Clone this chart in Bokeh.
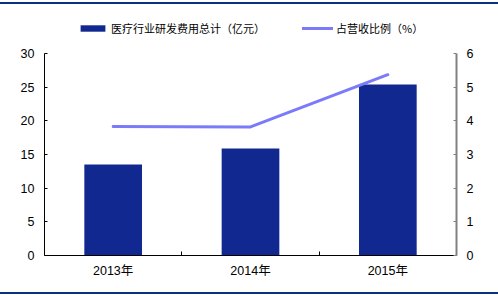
import numpy as np
from bokeh.plotting import figure
from bokeh.layouts import column
from bokeh.models import (Range1d, LinearAxis, FixedTicker, Legend, LegendItem, Div)
from bokeh.embed import file_html
from bokeh.resources import INLINE

categories = ["2013年", "2014年", "2015年"]
rd_expense = [13.5, 15.9, 25.4]      # 医疗行业研发费用总计（亿元）
rd_ratio = [3.83, 3.82, 5.37]        # 占营收比例（%）
left_ticks = [0, 5, 10, 15, 20, 25, 30]
right_ticks = [0, 1, 2, 3, 4, 5, 6]

BAR = "#10288F"
LINE = "#7B7BFA"
RULE = "#0D2F80"
LATIN = "Liberation Sans"
MIXED = "Liberation Sans, Noto Sans CJK SC"
CJK = "Noto Sans CJK SC"

# layout geometry (pixels)
FIG_H = 288
BORDER_BOTTOM = 37
AXIS_PX = 202          # pixel height of the 0..30 axis span
frame_h = FIG_H - BORDER_BOTTOM
left_max, right_max = left_ticks[-1], right_ticks[-1]
stretch = frame_h / AXIS_PX  # frame extends above the axis top to host the legend

xs = np.arange(len(categories)) + 0.5

p = figure(width=498, height=FIG_H, output_backend="svg", toolbar_location=None,
           x_range=Range1d(0, len(categories)), y_range=Range1d(0, left_max * stretch),
           min_border_left=44, min_border_right=42, min_border_top=0,
           min_border_bottom=BORDER_BOTTOM, outline_line_color=None,
           background_fill_color="white", border_fill_color="white", margin=0)
p.xgrid.visible = False
p.ygrid.visible = False
p.extra_y_ranges = {"pct": Range1d(0, right_max * stretch)}

bars = p.vbar(x=xs, top=rd_expense, width=0.42, fill_color=BAR, line_color=None)
ln = p.line(x=xs, y=rd_ratio, y_range_name="pct", line_color=LINE, line_width=3,
            line_cap="round")

# x axis
xa = p.xaxis[0]
xa.ticker = FixedTicker(ticks=list(xs), minor_ticks=list(np.arange(1, len(categories))))
xa.major_label_overrides = {float(x): c for x, c in zip(xs, categories)}
xa.major_tick_line_color = None
xa.minor_tick_in = 4
xa.minor_tick_out = 0
xa.minor_tick_line_color = "black"
xa.axis_line_color = "black"
xa.major_label_text_font = MIXED
xa.major_label_text_font_size = "12.5px"
xa.major_label_text_color = "black"
xa.major_label_standoff = 2

# left axis
ya = p.yaxis[0]
ya.ticker = FixedTicker(ticks=left_ticks)
ya.bounds = (0, left_max)
ya.major_tick_in = 3
ya.major_tick_out = 0
ya.minor_tick_line_color = None
ya.axis_line_color = "black"
ya.major_label_text_font = LATIN
ya.major_label_text_font_size = "12.5px"
ya.major_label_text_color = "black"
ya.major_label_standoff = 10

# right axis
ra = LinearAxis(y_range_name="pct", ticker=FixedTicker(ticks=right_ticks),
                bounds=(0, right_max))
ra.major_tick_in = 3
ra.major_tick_out = 0
ra.minor_tick_line_color = None
ra.axis_line_color = "#808080"
ra.axis_line_width = 2
ra.major_tick_line_color = "#808080"
ra.major_label_text_font = LATIN
ra.major_label_text_font_size = "12.5px"
ra.major_label_text_color = "black"
ra.major_label_standoff = 10
p.add_layout(ra, "right")


def mk_legend(label, renderer, x, y):
    lg = Legend(items=[LegendItem(label=label, renderers=[renderer])],
                location=(x, y), orientation="horizontal",
                glyph_width=31, glyph_height=8, label_height=12, label_standoff=3,
                padding=0, margin=0, spacing=0,
                background_fill_alpha=0, border_line_color=None,
                label_text_font=CJK, label_text_font_size="11px",
                label_text_color="black")
    p.add_layout(lg, "center")


mk_legend("医疗行业研发费用总计（亿元）", bars, 33, 219)
mk_legend("占营收比例（%）", ln, 258, 219)

top_rule = Div(text="", width=498, height=2, margin=(2, 0, 0, 0),
               styles={"background-color": RULE})
bottom_rule = Div(text="", width=498, height=2, margin=(0, 0, 0, 0),
                  styles={"background-color": RULE})

layout = column(top_rule, p, bottom_rule, spacing=0, margin=0)

open("out.html", "w").write(file_html(layout, INLINE))
